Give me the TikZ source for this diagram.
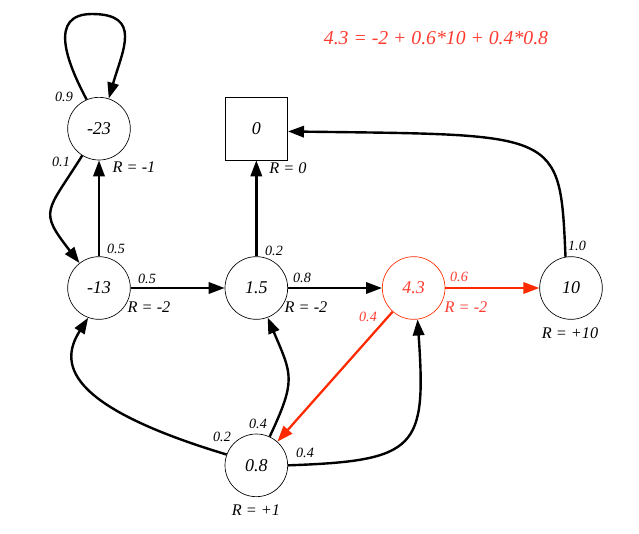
\documentclass[tikz,border=0pt]{standalone}
\usepackage{fontspec}
\setmainfont{Liberation Serif}
\usepackage{tikz}
\usetikzlibrary{arrows.meta,positioning}
\definecolor{MDPRed}{HTML}{FF2A00}
\definecolor{MDPRedText}{HTML}{FF3B30}
\tikzset{
  mdpState/.style={
    circle, draw=#1, line width=0.5pt, minimum size=47pt, inner sep=0pt,
    text=black, font=\fontsize{13.5}{15}\selectfont\itshape
  },
  mdpState/.default=black,
  mdpTerm/.style={
    rectangle, draw=black, line width=0.5pt, minimum size=47pt, inner sep=0pt,
    font=\fontsize{13.5}{15}\selectfont\itshape
  },
  mdpRew/.style={inner sep=0pt, font=\fontsize{12.2}{14}\selectfont\itshape},
  mdpProb/.style={inner sep=0pt, font=\fontsize{10.6}{12}\selectfont\itshape},
  mdpArrow/.style={-{Triangle[length=12pt,width=8.5pt]}, draw=black, line width=1.8pt},
  mdpHot/.style={-{Triangle[length=12pt,width=8.5pt]}, draw=MDPRed, line width=1.7pt}
}
\begin{document}
\begin{tikzpicture}[x=0.75pt, y=0.75pt]
  \useasboundingbox (0,0) rectangle (639,-533);

  % states
  \node[mdpState] (m13) at (99,-288) {-13};
  \node[mdpState, above=72pt of m13] (m23) {-23};
  \node[mdpState, right=70.5pt of m13] (m15) {1.5};
  \node[mdpTerm, above=72pt of m15] (zero) {0};
  \node[mdpState=MDPRed, right=70.5pt of m15, text=MDPRedText] (m43) {4.3};
  \node[mdpState, right=70.5pt of m43] (m10) {10};
  \node[mdpState, below=85.5pt of m15] (m08) {0.8};

  % rewards
  \node[mdpRew] (r23) at (134,-167) {R = -1};
  \node[mdpRew] (r0) at (288,-168) {R = 0};
  \node[mdpRew] (r13) at (149,-307) {R = -2};
  \node[mdpRew] (r15) at (306,-307) {R = -2};
  \node[mdpRew, text=MDPRedText] (r43) at (466,-307) {R = -2};
  \node[mdpRew] (r10) at (570,-333) {R = +10};
  \node[mdpRew] (r08) at (256,-510) {R = +1};
  \node[mdpRew, font=\fontsize{14.8}{17}\selectfont\itshape, text=MDPRedText] (eqn) at (436,-38) {4.3 = -2 + 0.6*10 + 0.4*0.8};

  % transitions
  \draw[mdpArrow] (m23.113) to[out=118, in=180, looseness=1.3] (92,-14) to[out=0, in=74, looseness=1.5] (m23.72);
  \draw[mdpArrow] (m23.238) to[out=238, in=128, looseness=1.6] (m13.128);
  \draw[mdpArrow] (m13) -- (m23);
  \draw[mdpArrow] (m13) -- (m15);
  \draw[mdpArrow] (m15) -- (zero);
  \draw[mdpArrow] (m15) -- (m43);
  \draw[mdpHot] (m43) -- (m10);
  \draw[mdpArrow] (m10.100) .. controls (560,-130) and (560,-135) .. (zero.-5);
  \draw[mdpHot] (m43) -- (m08);
  \draw[mdpArrow] (m08.160) .. controls (62,-405) and (60,-362) .. (m13.250);
  \draw[mdpArrow] (m08.65) to[out=65, in=-67, looseness=1.35] (m15.-69);
  \draw[mdpArrow] (m08.east) to[out=2, in=-86, looseness=1.7] (m43.-83);

  % probabilities
  \node[mdpProb] (p1) at (64,-97) {0.9};
  \node[mdpProb] (p2) at (61,-162) {0.1};
  \node[mdpProb] (p3) at (116,-249) {0.5};
  \node[mdpProb] (p4) at (147,-279) {0.5};
  \node[mdpProb] (p5) at (274,-251) {0.2};
  \node[mdpProb] (p6) at (302,-278) {0.8};
  \node[mdpProb, text=MDPRedText] (p7) at (459,-277) {0.6};
  \node[mdpProb] (p8) at (577,-246) {1.0};
  \node[mdpProb, text=MDPRedText] (p9) at (368,-317) {0.4};
  \node[mdpProb] (p10) at (222,-437) {0.2};
  \node[mdpProb] (p11) at (258,-424) {0.4};
  \node[mdpProb] (p12) at (305,-453) {0.4};
\end{tikzpicture}
\end{document}
